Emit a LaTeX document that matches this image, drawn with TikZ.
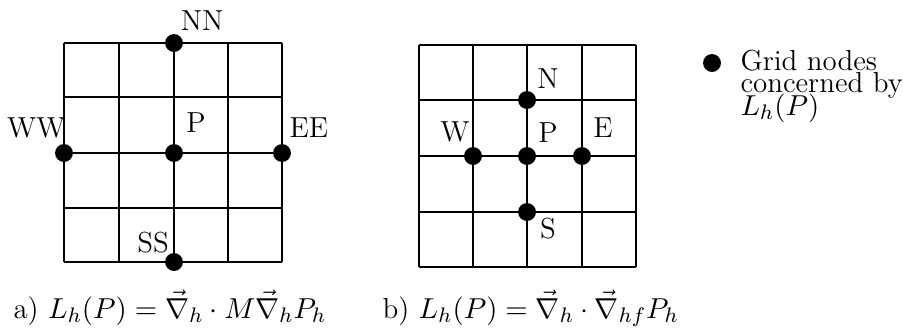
\documentclass[tikz,border=0pt]{standalone}
\usepackage{amsmath}
\begin{document}
\begin{tikzpicture}[x=0.38pt,y=-0.38pt,
  gridline/.style={line width=0.45pt},
  dot/.style={circle,fill=black,inner sep=0pt,minimum size=6.8pt},
  lbl/.style={inner sep=0pt,font=\fontsize{11}{13}\selectfont}]
\useasboundingbox (0,0) rectangle (903,328);
% left grid
\foreach \x in {64,119,174,228,282} \draw[gridline] (\x,43) -- (\x,262);
\foreach \y in {43,97,153,208,262} \draw[gridline] (64,\y) -- (282,\y);
% right grid
\foreach \x in {419,473,527,582,636} \draw[gridline] (\x,45) -- (\x,267);
\foreach \y in {45,100,156,212,267} \draw[gridline] (419,\y) -- (636,\y);
% left dots
\node[dot] (NN) at (174,43) {};
\node[dot] (WW) at (64,153) {};
\node[dot] (PL) at (174,153) {};
\node[dot] (EE) at (282,153) {};
\node[dot] (SS) at (174,262) {};
% right dots
\node[dot] (N) at (527,100) {};
\node[dot] (W) at (473,156) {};
\node[dot] (PR) at (527,156) {};
\node[dot] (E) at (582,156) {};
\node[dot] (S) at (527,212) {};
% left labels
\node[lbl,anchor=base] (lNN) at (202,30) {NN};
\node[lbl,anchor=base] (lPL) at (196,132) {P};
\node[lbl,anchor=base east] (lWW) at (66,137) {WW};
\node[lbl,anchor=base west] (lEE) at (289,137) {EE};
\node[lbl,anchor=base] (lSS) at (153,252) {SS};
% right labels
\node[lbl,anchor=base] (lN) at (548,88) {N};
\node[lbl,anchor=base] (lW) at (455,141) {W};
\node[lbl,anchor=base] (lPR) at (548,142) {P};
\node[lbl,anchor=base] (lE) at (603,137) {E};
\node[lbl,anchor=base] (lS) at (548,238) {S};
% legend
\node[dot] (leg) at (712,63) {};
\node[lbl,anchor=base west] (t1) at (740,70) {Grid nodes};
\node[lbl,anchor=base west] (t2) at (740,92) {concerned by};
\node[lbl,anchor=base west] (t3) at (740,115) {$L_h(P)$};
% captions
\node[lbl,anchor=base west] (ca) at (13,318) {a) $L_h(P) = \vec{\nabla}_h \cdot M\vec{\nabla}_h P_h$};
\node[lbl,anchor=base west] (cb) at (382,318) {b) $L_h(P) = \vec{\nabla}_h \cdot \vec{\nabla}_{hf} P_h$};
\end{tikzpicture}
\end{document}
